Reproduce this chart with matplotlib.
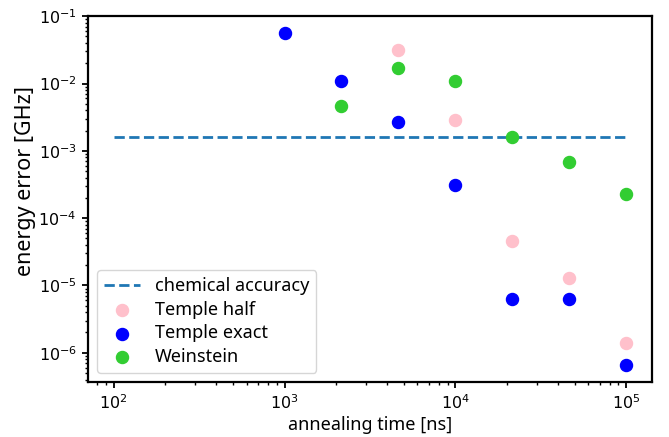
import matplotlib
matplotlib.use("Agg")
import matplotlib.pyplot as plt

half_t = [4642, 1e4, 21544, 46416, 1e5]
half_err = [0.032, 0.0029, 4.6e-5, 1.3e-5, 1.4e-6]

exact_t = [1e3, 2154, 4642, 1e4, 21544, 46416, 1e5]
exact_err = [0.057, 0.011, 0.0027, 3.1e-4, 6.3e-6, 6.3e-6, 6.5e-7]

wein_t = [2154, 4642, 1e4, 21544, 46416, 1e5]
wein_err = [0.0047, 0.017, 0.011, 0.0016, 6.8e-4, 2.3e-4]

chem_t = [1e2, 1e5]
chem_acc = 1.6e-3

fig = plt.figure(figsize=(6.69, 4.37), dpi=100)
ax = fig.add_axes([0.1315, 0.1259, 0.843, 0.8375])

ax.plot(chem_t, [chem_acc, chem_acc], ls='--', color='#1f77b4', lw=2, label='chemical accuracy')
ax.scatter(half_t, half_err, color='pink', s=75, label='Temple half', zorder=3)
ax.scatter(exact_t, exact_err, color='blue', s=75, label='Temple exact', zorder=3)
ax.scatter(wein_t, wein_err, color='limegreen', s=75, label='Weinstein', zorder=3)

ax.set_xscale('log')
ax.set_yscale('log')
ax.tick_params(which='major', labelsize=11.5, width=1.3, length=4.5)
ax.tick_params(which='minor', width=1.0, length=2.5)
for s in ax.spines.values():
    s.set_linewidth(1.6)
ax.set_xlabel('annealing time [ns]', fontsize=13, family='Noto Sans', labelpad=3)
ax.set_ylabel('energy error [GHz]', fontsize=15.5, family='Noto Sans', labelpad=2)
ax.yaxis.label.set_y(0.55)
ax.legend(loc='lower left', prop={'family': 'Noto Sans', 'size': 13},
          labelspacing=0.3, borderaxespad=0.5)

fig.savefig('out.png', dpi=100)
